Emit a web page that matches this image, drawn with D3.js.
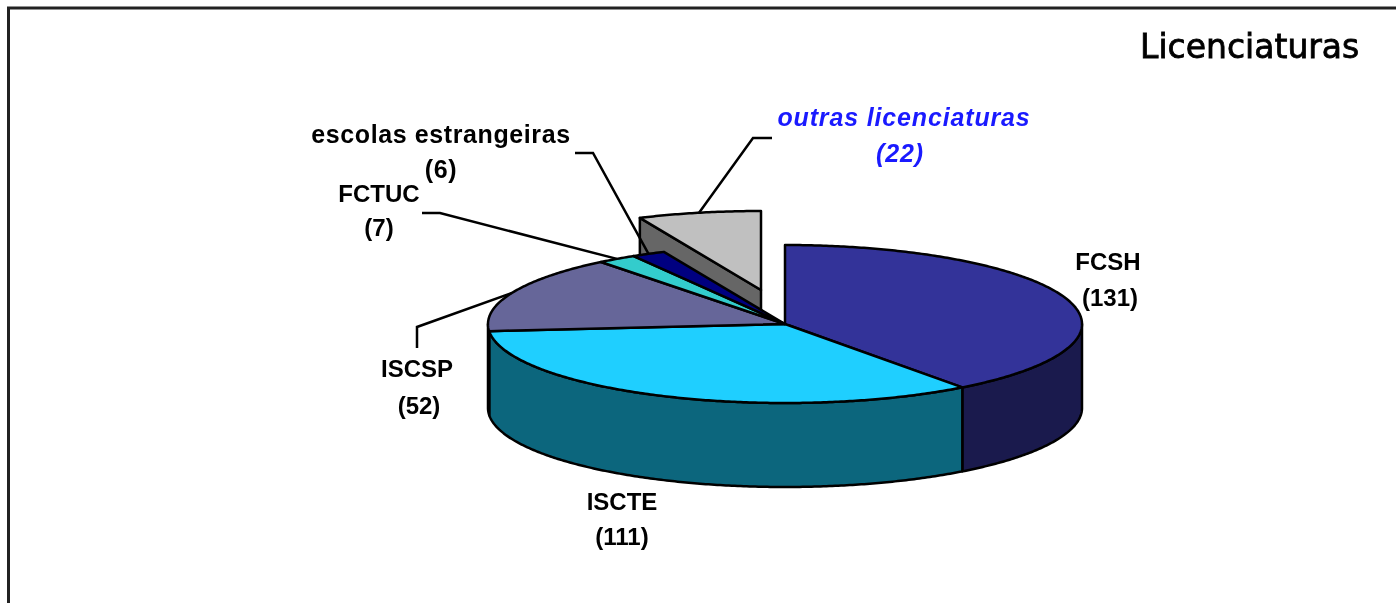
<!DOCTYPE html>
<html>
<head>
<meta charset="utf-8">
<script src="https://cdn.jsdelivr.net/npm/d3@7"></script>
<style>
  body { margin: 0; background: #fff; }
  svg { filter: blur(0.5px); }
  text { font-family: "Liberation Sans", Arial, sans-serif; font-weight: bold; font-size: 24px; fill: #000; text-anchor: middle; }
  .title { font-family: "DejaVu Sans", Verdana, sans-serif; font-weight: normal; font-size: 33px; text-anchor: start; stroke: #000; stroke-width: 0.8; }
  .wide { font-size: 25px; letter-spacing: 0.6px; }
  .outras { fill: #1a1aff; font-style: italic; font-size: 25px; letter-spacing: 0.85px; }
  .slice { stroke: #000; stroke-width: 2.5; stroke-linejoin: round; }
  .leader { fill: none; stroke: #000; stroke-width: 2.5; }
</style>
</head>
<body>
<script>
// Values
var categories = ["FCSH", "ISCTE", "ISCSP", "FCTUC", "escolas estrangeiras", "outras licenciaturas"];
var values = [131, 111, 52, 7, 6, 22];
var topColors = ["#333399", "#1fcfff", "#666699", "#33cccc", "#000080", "#c0c0c0"];
var sideColors = ["#1a1a4d", "#0c667d", "#33334d", "#1a6666", "#000040", "#666666"];

// Where each label sits: [name x, name y, value x, value y]
var labelSpots = [
  [1108, 270, 1110, 306],
  [622, 510, 622, 545],
  [417, 377, 419, 414],
  [379, 202, 379, 236],
  [441, 143, 441, 178],
  [904, 126, 900, 162]
];
// Leader elbows, from the label end to the bend (the rim end comes from the slice)
var leaderBends = [null, null, [[417, 348], [417, 327]], [[422, 213], [440, 213]], [[575, 153], [593, 153]], [[772, 138], [753, 138]]];

var width = 1396,
    height = 603;

// Pie geometry
var cx = 785, cy = 324,
    rx = 297, ry = 79,
    depth = 84,
    explode = [-24, -34],
    explodedIndex = 5;

var svg = d3.select("body")
  .append("svg")
  .attr("width", width)
  .attr("height", height)
  .style("display", "block");

// Frame, only top and left show in the crop
svg.append("path")
  .attr("d", "M8.5," + height + "V8H" + width)
  .attr("fill", "none")
  .attr("stroke", "#222")
  .attr("stroke-width", 3);

svg.append("text")
  .attr("class", "title")
  .attr("x", 1140)
  .attr("y", 58)
  .text("Licenciaturas");

var pie = d3.pie().sort(null);
var slices = pie(values);

var line = d3.line();

// Point on the flattened rim, angle measured clockwise from 12 o'clock
function rim(a, ox, oy, drop) {
  return [cx + ox + rx * Math.sin(a), cy + oy + drop - ry * Math.cos(a)];
}

function arcPoints(a0, a1, ox, oy, drop) {
  var n = Math.max(2, Math.ceil((a1 - a0) / 0.01));
  return d3.range(n + 1).map(function(i) {
    return rim(a0 + (a1 - a0) * i / n, ox, oy, drop);
  });
}

function topFace(s, ox, oy) {
  return line([[cx + ox, cy + oy]].concat(arcPoints(s.startAngle, s.endAngle, ox, oy, 0))) + "Z";
}

function wall(a0, a1) {
  return line(arcPoints(a0, a1, 0, 0, 0).concat(arcPoints(a0, a1, 0, 0, depth).reverse())) + "Z";
}

// Exploded slice goes first, the main pie covers the lower part of its cut face
var ex = slices[explodedIndex];
var exLeft = rim(ex.startAngle, explode[0], explode[1], 0);
svg.append("path")
  .attr("class", "slice")
  .attr("fill", sideColors[explodedIndex])
  .attr("d", line([
    [cx + explode[0], cy + explode[1]],
    exLeft,
    [exLeft[0], exLeft[1] + depth],
    [cx + explode[0], cy + explode[1] + depth]
  ]) + "Z");
svg.append("path")
  .attr("class", "slice")
  .attr("fill", topColors[explodedIndex])
  .attr("d", topFace(ex, explode[0], explode[1]));

var main = slices.filter(function(d, i) { return i != explodedIndex; });

// Outer walls, only the front half of the rim is visible
svg.selectAll(".wall")
  .data(main.filter(function(d) { return d.startAngle < 1.5 * Math.PI && d.endAngle > 0.5 * Math.PI; }))
  .enter()
  .append("path")
  .attr("class", "wall slice")
  .attr("fill", function(d) { return sideColors[d.index]; })
  .attr("d", function(d) {
    return wall(Math.max(d.startAngle, 0.5 * Math.PI), Math.min(d.endAngle, 1.5 * Math.PI));
  });

svg.selectAll(".top")
  .data(main)
  .enter()
  .append("path")
  .attr("class", "top slice")
  .attr("fill", function(d) { return topColors[d.index]; })
  .attr("d", function(d) { return topFace(d, 0, 0); });

// Leader lines
slices.forEach(function(d, i) {
  if (!leaderBends[i]) return;
  var mid = (d.startAngle + d.endAngle) / 2;
  var off = i == explodedIndex ? explode : [0, 0];
  svg.append("path")
    .attr("class", "leader")
    .attr("d", line(leaderBends[i].concat([rim(mid, off[0], off[1], 0)])));
});

// Labels
categories.forEach(function(name, i) {
  var spot = labelSpots[i];
  var cls = i == explodedIndex ? "outras" : (i == 4 ? "wide" : null);
  svg.append("text").attr("class", cls).attr("x", spot[0]).attr("y", spot[1]).text(name);
  svg.append("text").attr("class", cls).attr("x", spot[2]).attr("y", spot[3]).text("(" + values[i] + ")");
});
</script>
</body>
</html>
